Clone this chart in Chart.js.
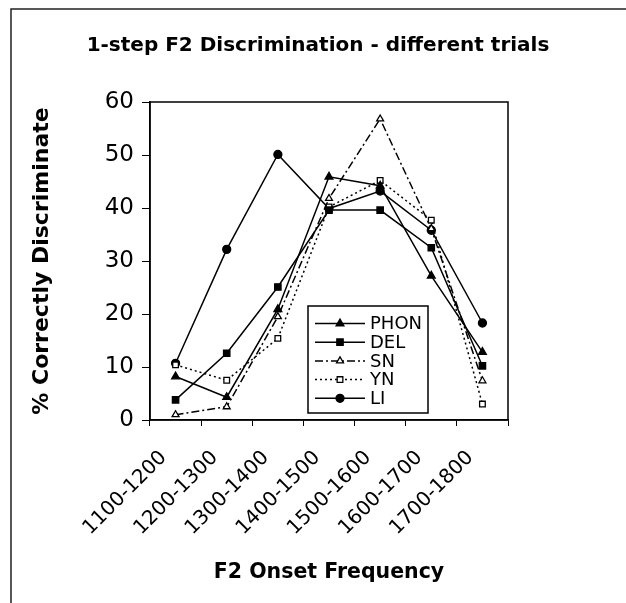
<!DOCTYPE html>
<html>
<head>
<meta charset="utf-8">
<script src="https://cdn.jsdelivr.net/npm/chart.js@4/dist/chart.umd.min.js"></script>
<style>
  html, body { margin: 0; padding: 0; background: #fff; }
  #wrap { position: relative; width: 626px; height: 603px; }
</style>
</head>
<body>
<div id="wrap"><canvas id="c" width="626" height="603"></canvas></div>
<script>
const categories = ['1100-1200', '1200-1300', '1300-1400', '1400-1500', '1500-1600', '1600-1700', '1700-1800'];
const PHON = [8.2, 4.3, 20.9, 45.9, 44.2, 27.2, 12.8];
const DEL  = [3.8, 12.6, 25.1, 39.6, 39.6, 32.5, 10.2];
const SN   = [1.0, 2.5, 19.5, 41.8, 56.8, 36.1, 7.4];
const YN   = [10.4, 7.5, 15.4, 40.2, 45.2, 37.7, 3.0];
const LI   = [10.7, 32.2, 50.1, 39.9, 43.2, 35.8, 18.3];
const yTicks = [0, 10, 20, 30, 40, 50, 60];
const chartTitle = '1-step F2 Discrimination - different trials';

const FONT = "'DejaVu Sans', 'Liberation Sans', Arial, sans-serif";

function ds(label, data, style, fill, dash, radius) {
  return {
    label, data,
    borderColor: '#000', borderWidth: 1.5, borderDash: dash,
    pointStyle: style, pointRadius: radius, pointHoverRadius: radius,
    pointBackgroundColor: fill, pointBorderColor: '#000', pointBorderWidth: 1.3,
    tension: 0, fill: false
  };
}

const datasets = [
  ds('PHON', PHON, 'triangle', '#000', [], 4.5),
  ds('DEL', DEL, 'rect', '#000', [], 4.5),
  ds('SN', SN, 'triangle', '#fff', [8, 3, 2, 3], 4),
  ds('YN', YN, 'rect', '#fff', [2, 3], 4),
  ds('LI', LI, 'circle', '#000', [], 4)
];

const framePlugin = {
  id: 'frame',
  beforeDraw(chart) {
    const ctx = chart.ctx;
    ctx.save();
    ctx.fillStyle = '#fff';
    ctx.fillRect(0, 0, chart.width, chart.height);
    ctx.strokeStyle = '#222';
    ctx.lineWidth = 1.5;
    ctx.beginPath();
    ctx.moveTo(11, 603);
    ctx.lineTo(11, 9);
    ctx.lineTo(626, 9);
    ctx.stroke();
    // title
    ctx.fillStyle = '#000';
    ctx.font = "bold 20px " + FONT;
    ctx.textAlign = 'center';
    ctx.textBaseline = 'middle';
    ctx.fillText(chartTitle, 318, 46);
    ctx.restore();
  },
  afterDatasetsDraw(chart) {
    const ctx = chart.ctx;
    const a = chart.chartArea;
    ctx.save();
    ctx.strokeStyle = '#000';
    ctx.lineWidth = 1.5;
    ctx.strokeRect(a.left, a.top, a.right - a.left, a.bottom - a.top);
    // legend box
    const bx = 308, by = 306, bw = 120, bh = 107;
    ctx.fillStyle = '#fff';
    ctx.fillRect(bx, by, bw, bh);
    ctx.lineWidth = 1.5;
    ctx.strokeRect(bx, by, bw, bh);
    ctx.font = "18px " + FONT;
    ctx.textBaseline = 'middle';
    ctx.textAlign = 'left';
    chart.data.datasets.forEach((d, i) => {
      const y = by + 17.5 + i * 18.7;
      ctx.strokeStyle = '#000';
      ctx.lineWidth = 1.5;
      ctx.setLineDash(d.borderDash || []);
      ctx.beginPath();
      ctx.moveTo(bx + 7, y);
      ctx.lineTo(bx + 57, y);
      ctx.stroke();
      ctx.setLineDash([]);
      ctx.fillStyle = d.pointBackgroundColor;
      ctx.lineWidth = 1.3;
      Chart.helpers.drawPoint(ctx, { pointStyle: d.pointStyle, radius: d.pointRadius, borderWidth: 1.3 }, bx + 32, y);
      ctx.fillStyle = '#000';
      ctx.fillText(d.label, bx + 62, y + 1);
    });
    ctx.restore();
  }
};

new Chart(document.getElementById('c'), {
  type: 'line',
  data: { labels: categories, datasets },
  plugins: [framePlugin],
  options: {
    responsive: false,
    animation: false,
    layout: { padding: { left: 0, right: 118, top: 102, bottom: 0 } },
    plugins: {
      legend: { display: false },
      tooltip: { enabled: false },
      title: { display: false }
    },
    scales: {
      x: {
        type: 'category',
        offset: true,
        grid: { offset: true, drawOnChartArea: false, color: '#000', tickLength: 6, tickColor: '#000' },
        border: { color: '#000', width: 1.5 },
        ticks: {
          color: '#000', minRotation: 45, maxRotation: 45, padding: 20, labelOffset: -12,
          font: { family: FONT, size: 20 }
        },
        title: {
          display: true, text: 'F2 Onset Frequency', color: '#000',
          font: { family: FONT, size: 20.5, weight: 'bold' },
          padding: { top: 0, bottom: 18 }
        },
        afterFit(s) { s.height = 183; }
      },
      y: {
        min: 0, max: 60,
        afterBuildTicks(s) { s.ticks = yTicks.map(v => ({ value: v })); },
        grid: { drawOnChartArea: false, color: '#000', tickLength: 8, tickColor: '#000' },
        border: { color: '#000', width: 1.5 },
        ticks: { color: '#000', padding: 8, font: { family: FONT, size: 23 } },
        title: {
          display: true, text: '% Correctly Discriminate', color: '#000',
          font: { family: FONT, size: 22, weight: 'bold' },
          padding: { top: 29, bottom: 0 }
        },
        afterFit(s) { s.width = 150; }
      }
    }
  }
});
</script>
</body>
</html>
